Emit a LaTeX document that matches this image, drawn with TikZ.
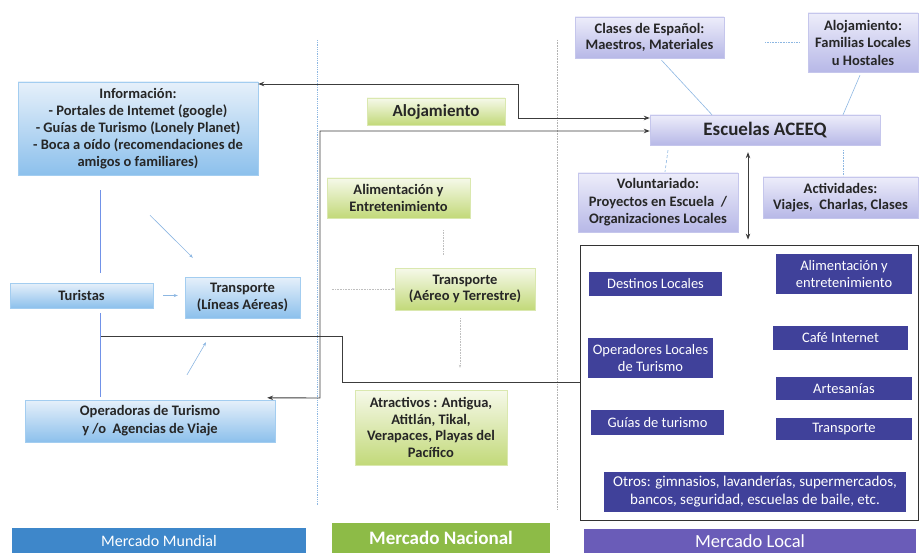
\documentclass[tikz,border=0pt]{standalone}
\usepackage{fontspec}
\setmainfont{Carlito}
\usetikzlibrary{arrows.meta}
\definecolor{azulA}{HTML}{E6F0FA}
\definecolor{azulB}{HTML}{8CC0EC}
\definecolor{verdeA}{HTML}{F6F9EA}
\definecolor{verdeB}{HTML}{C2D979}
\definecolor{lilaA}{HTML}{EDEDFA}
\definecolor{lilaB}{HTML}{B7B8E7}
\definecolor{indigo}{HTML}{40419A}
\definecolor{barAzul}{HTML}{3E87CA}
\definecolor{barVerde}{HTML}{8DBB47}
\definecolor{barLila}{HTML}{6A5CB8}
\definecolor{linea}{HTML}{3C3C3C}
\definecolor{celeste}{HTML}{8DB7E2}
\begin{document}
\begin{tikzpicture}[x=1pt,y=-1pt,
  txt/.style={font=\fontsize{14.5}{16.5}\selectfont\bfseries, text=black!85, align=center, inner sep=0pt},
  mundial/.style={txt, top color=azulA, bottom color=azulB, draw=azulB!80!white},
  nacional/.style={txt, top color=verdeA, bottom color=verdeB, draw=verdeB!60!white},
  escuela/.style={txt, top color=lilaA, bottom color=lilaB, draw=lilaB!80!white},
  local/.style={font=\fontsize{14.5}{17}\selectfont, fill=indigo, text=white, align=center, inner sep=0pt},
  mercado/.style={text=white, align=center, inner sep=0pt},
  ruta/.style={draw=linea, line width=0.9pt},
  doble/.style={ruta, {Stealth[length=6pt]}-{Stealth[length=6pt]}},
  suave/.style={draw=celeste, line width=0.6pt},
  punteado/.style={draw=black!25, densely dotted, line width=0.6pt}]
\useasboundingbox (0,0) rectangle (920,553);
\draw[draw=celeste, densely dotted, line width=0.8pt] (317,40) -- (317,505);
\draw[draw=black!30, densely dotted, line width=0.6pt] (557,40) -- (557,510);
\node[mundial, font=\fontsize{14.5}{17}\selectfont\bfseries, minimum width=240, minimum height=93] (info) at (138,128.5) {Información:\\- Portales de Intemet (google)\\- Guías de Turismo (Lonely Planet)\\- Boca a oído (recomendaciones de\\amigos o familiares)};
\node[mundial, minimum width=143, minimum height=25] (tur) at (81.5,295.5) {Turistas};
\node[mundial, minimum width=115, minimum height=41] (trA) at (242.5,297.5) {Transporte\\(Líneas Aéreas)};
\node[mundial, font=\fontsize{14.5}{18}\selectfont\bfseries, minimum width=250, minimum height=42] (ope) at (150,421) {Operadoras de Turismo\\y /o~~Agencias de Viaje};
\node[nacional, font=\fontsize{17}{18}\selectfont\bfseries, minimum width=138, minimum height=27] (aloN) at (436,111.5) {Alojamiento};
\node[nacional, minimum width=143, minimum height=40] (ali) at (398.5,198) {Alimentación y\\Entretenimiento};
\node[nacional, minimum width=140, minimum height=42] (trN) at (465,289) {Transporte\\(Aéreo y Terrestre)};
\node[nacional, minimum width=152, minimum height=75] (atr) at (431,427.5) {Atractivos : Antigua,\\Atitlán, Tikal,\\Verapaces, Playas del\\Pacífico};
\node[escuela, minimum width=149, minimum height=41] (cla) at (649.5,37.5) {Clases de Español:\\Maestros, Materiales};
\node[escuela, font=\fontsize{14.5}{17.5}\selectfont\bfseries, minimum width=110, minimum height=59] (aloL) at (863,42.5) {Alojamiento:\\Familias Locales\\u Hostales};
\node[escuela, font=\fontsize{19}{20}\selectfont\bfseries, minimum width=230, minimum height=30] (esc) at (765,130) {Escuelas ACEEQ};
\node[escuela, font=\fontsize{14.5}{17.5}\selectfont\bfseries, minimum width=160, minimum height=59] (vol) at (658,202.5) {Voluntariado:\\Proyectos en Escuela~~/\\Organizaciones Locales};
\node[escuela, minimum width=155, minimum height=41] (act) at (840.5,197.5) {Actividades:\\Viajes,~~Charlas, Clases};
\node[draw=black!80, line width=0.8pt, minimum width=338, minimum height=275, inner sep=0pt] (caja) at (749,382.5) {};
\node[local, minimum width=133, minimum height=24] (des) at (655.5,284) {Destinos Locales};
\node[local, minimum width=136, minimum height=40] (aliL) at (844,274) {Alimentación y\\entretenimiento};
\node[local, minimum width=135, minimum height=24] (caf) at (840.5,338) {Café Internet};
\node[local, minimum width=125, minimum height=40] (opL) at (650.5,358) {Operadores Locales\\de Turismo};
\node[local, minimum width=136, minimum height=23] (art) at (844,388.5) {Artesanías};
\node[local, minimum width=133, minimum height=25] (gui) at (657.5,422.5) {Guías de turismo};
\node[local, minimum width=136, minimum height=22] (trL) at (844,429) {Transporte};
\node[local, font=\fontsize{15}{18}\selectfont, minimum width=302, minimum height=40] (otr) at (755,492) {Otros: gimnasios, lavanderías, supermercados,\\bancos, seguridad, escuelas de baile, etc.};
\node[mercado, fill=barAzul, font=\fontsize{16}{18}\selectfont, minimum width=294, minimum height=26] (mM) at (159,540.5) {Mercado Mundial};
\node[mercado, fill=barVerde, font=\fontsize{19}{20}\selectfont\bfseries, minimum width=218, minimum height=31] (mN) at (441,538) {Mercado Nacional};
\node[mercado, fill=barLila, font=\fontsize{18.5}{20}\selectfont, minimum width=332, minimum height=25] (mL) at (750,541) {Mercado Local};
\coordinate (c1) at (518,84);
\coordinate (c2) at (518,118);
\coordinate (c3) at (320,131);
\coordinate (c4) at (320,398);
\coordinate (t1) at (100,336);
\coordinate (t2) at (342,336);
\coordinate (t3) at (342,382);
\draw[doble] (info.east |- c1) -- (c1) -- (c2) -- (esc.west |- c2);
\draw[doble] ([shift={(-8,-2)}]ope.north east) -- (c4) -- (c3) -- (esc.west |- c3);
\draw[ruta] (t1) -- (t2) -- (t3) -- (caja.west |- t3);
\draw[doble] ([shift={(-17,7)}]esc.south) -- ([shift={(-1,-5)}]caja.north);
\draw[draw=celeste!80!blue, line width=1pt] ([yshift=-15pt]info.south -| t1) -- ([yshift=10pt]tur.north -| t1);
\draw[draw=celeste!80!blue, line width=1pt] ([yshift=-5pt]tur.south -| t1) -- ([yshift=3pt]ope.north -| t1);
\draw[suave, -{Stealth[length=4pt]}] ([shift={(12,40)}]info.south) -- ([shift={(8,-19)}]trA.north west);
\draw[suave, -{Stealth[length=4pt]}] ([xshift=10pt]tur.east) -- ([xshift=-7pt]trA.west |- tur.east);
\draw[suave, -{Stealth[length=4pt]}] ([shift={(37,-25)}]ope.north) -- ([shift={(-36.5,24)}]trA.south);
\draw[punteado] ([shift={(44.5,12)}]ali.south) -- ([shift={(-22,-13)}]trN.north);
\draw[punteado, -{Stealth[length=3pt]}] ([xshift=-63pt]trN.west) -- (trN.west);
\draw[punteado, -{Stealth[length=3pt]}] ([shift={(-5,8)}]trN.south) -- ([shift={(29,-22)}]atr.north);
\draw[suave] ([shift={(12,2)}]cla.south) -- ([xshift=-53pt]esc.north);
\draw[suave] ([shift={(-3,3)}]aloL.south) -- ([xshift=78pt]esc.north);
\draw[suave, densely dotted] ([xshift=41pt]cla.east |- aloL.west) -- ([xshift=-8pt]aloL.west);
\draw[suave, densely dashed] ([shift={(-97,5)}]esc.south) -- ([shift={(7,-1)}]vol.north);
\draw[suave, densely dotted] ([shift={(78,5)}]esc.south) -- ([shift={(2.5,-1)}]act.north);
\end{tikzpicture}
\end{document}
